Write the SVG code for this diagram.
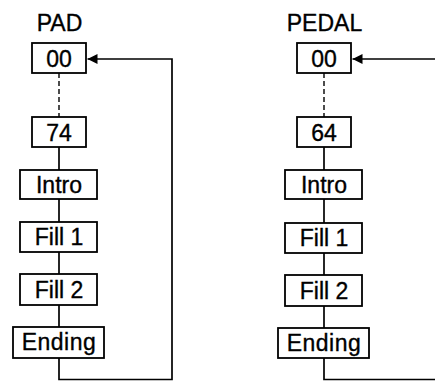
<svg xmlns="http://www.w3.org/2000/svg" width="435" height="381" viewBox="0 0 435 381">
<defs>
<marker id="ah" viewBox="0 0 10 10" refX="10" refY="5" markerWidth="10" markerHeight="10" markerUnits="userSpaceOnUse" orient="auto">
<path d="M0,0 L10,5 L0,10 z" fill="#000"/>
</marker>
<style>
.box{fill:#fff;stroke:#000;stroke-width:1.8}
.t{font-family:"Liberation Sans",Arial,sans-serif;font-size:23px;fill:#000;stroke:#000;stroke-width:0.35;text-anchor:middle}
.h{font-family:"Liberation Sans",Arial,sans-serif;font-size:23px;fill:#000;stroke:#000;stroke-width:0.35;text-anchor:middle}
.c{fill:none;stroke:#000;stroke-width:1.7}
.d{fill:none;stroke:#000;stroke-width:1.4;stroke-dasharray:5,3}
</style>
</defs>
<rect width="435" height="381" fill="#fff"/>
<text class="h" x="59.5" y="31">PAD</text>
<text class="h" x="324.5" y="31">PEDAL</text>
<g id="connectors">
<line class="d" x1="59" y1="73" x2="59" y2="117"/>
<line class="c" x1="59" y1="147" x2="59" y2="170"/>
<line class="c" x1="59" y1="199" x2="59" y2="222"/>
<line class="c" x1="59" y1="252" x2="59" y2="274"/>
<line class="c" x1="59" y1="305" x2="59" y2="327"/>
<path class="c" d="M59,358 V379.5 H172 V59 H87.5" marker-end="url(#ah)"/>
<line class="d" x1="324" y1="73" x2="324" y2="117"/>
<line class="c" x1="324" y1="147" x2="324" y2="170"/>
<line class="c" x1="324" y1="199" x2="324" y2="223"/>
<line class="c" x1="324" y1="253" x2="324" y2="275"/>
<line class="c" x1="324" y1="306" x2="324" y2="328"/>
<path class="c" d="M324,358 V379.5 H435" stroke-width="1.1" stroke="#444"/>
<line class="c" x1="435" y1="59" x2="352.5" y2="59" marker-end="url(#ah)"/>
</g>
<g id="pad-00"><rect class="box" x="32" y="43" width="54" height="30"/><text class="t" x="59" y="67">00</text></g>
<g id="pad-74"><rect class="box" x="32" y="117" width="54" height="30"/><text class="t" x="59" y="141">74</text></g>
<g id="pad-intro"><rect class="box" x="20" y="170" width="77" height="29"/><text class="t" x="59" y="192.5">Intro</text></g>
<g id="pad-fill1"><rect class="box" x="20" y="222" width="77" height="30"/><text class="t" x="59" y="245">Fill 1</text></g>
<g id="pad-fill2"><rect class="box" x="20" y="274" width="77" height="31"/><text class="t" x="59" y="297.5">Fill 2</text></g>
<g id="pad-ending"><rect class="box" x="13" y="327" width="91" height="31"/><text class="t" x="59" y="350" letter-spacing="0.5">Ending</text></g>
<g id="pedal-00"><rect class="box" x="297" y="43" width="54" height="30"/><text class="t" x="324" y="67">00</text></g>
<g id="pedal-64"><rect class="box" x="297" y="117" width="54" height="30"/><text class="t" x="324" y="141">64</text></g>
<g id="pedal-intro"><rect class="box" x="285" y="170" width="77" height="29"/><text class="t" x="324" y="192.5">Intro</text></g>
<g id="pedal-fill1"><rect class="box" x="285" y="223" width="77" height="30"/><text class="t" x="324" y="246">Fill 1</text></g>
<g id="pedal-fill2"><rect class="box" x="285" y="275" width="77" height="31"/><text class="t" x="324" y="298.5">Fill 2</text></g>
<g id="pedal-ending"><rect class="box" x="278" y="328" width="91" height="30"/><text class="t" x="324" y="350.5" letter-spacing="0.5">Ending</text></g>
</svg>
